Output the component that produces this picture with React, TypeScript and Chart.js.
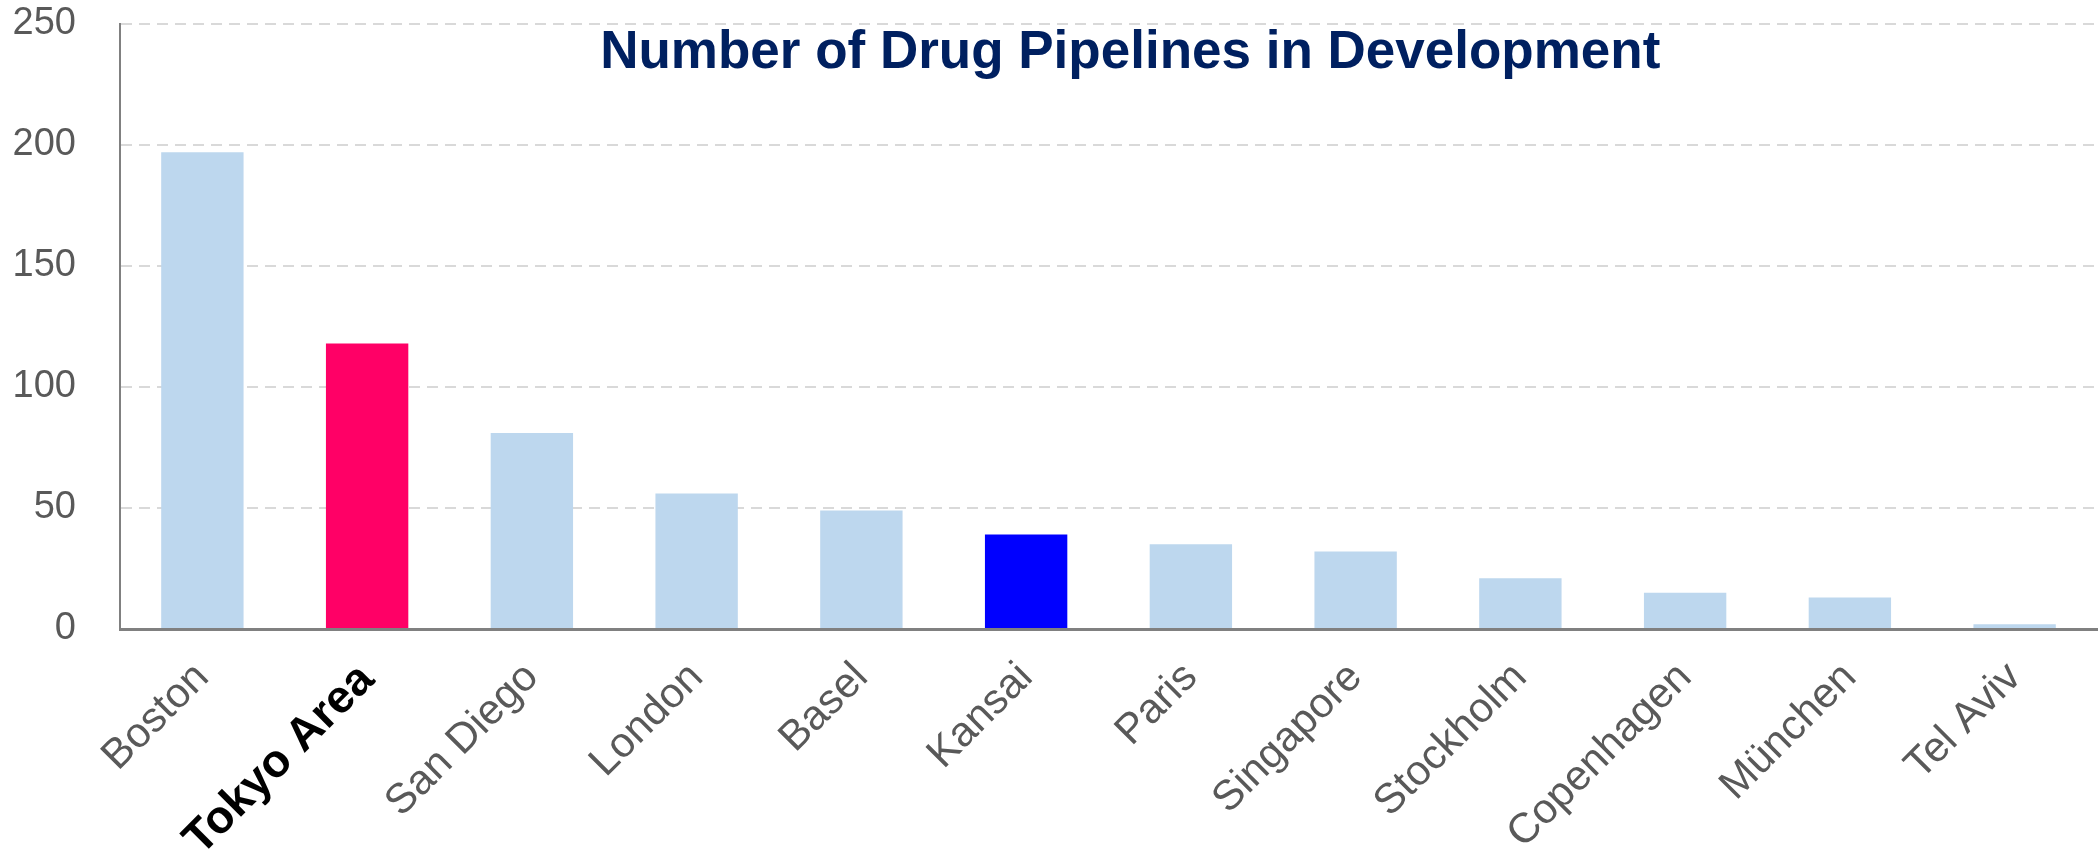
import React, { useEffect, useRef } from "react";
import { Chart, registerables } from "chart.js";

Chart.register(...registerables);

const categories: string[] = [
  "Boston",
  "Tokyo Area",
  "San Diego",
  "London",
  "Basel",
  "Kansai",
  "Paris",
  "Singapore",
  "Stockholm",
  "Copenhagen",
  "München",
  "Tel Aviv",
];

const pipelines: number[] = [197, 118, 81, 56, 49, 39, 35, 32, 21, 15, 13, 2];

const barColors: string[] = [
  "#BDD7EE",
  "#FF0066",
  "#BDD7EE",
  "#BDD7EE",
  "#BDD7EE",
  "#0000FF",
  "#BDD7EE",
  "#BDD7EE",
  "#BDD7EE",
  "#BDD7EE",
  "#BDD7EE",
  "#BDD7EE",
];

const highlightIndex = 1;
const titleText = "Number of Drug Pipelines in Development";
const yTicks = { min: 0, max: 250, step: 50 };

const FONT = "'Liberation Sans', Arial, Helvetica, sans-serif";

const titlePlugin = {
  id: "innerTitle",
  afterDraw(chart: any) {
    const { ctx, chartArea } = chart;
    ctx.save();
    ctx.font = `bold 53px ${FONT}`;
    ctx.fillStyle = "#002060";
    ctx.textAlign = "center";
    ctx.textBaseline = "alphabetic";
    const cx = chartArea.left + chartArea.width * 0.511;
    ctx.fillText(titleText, cx, chartArea.top + 44);
    ctx.restore();
  },
};

export default function App() {
  const canvasRef = useRef<HTMLCanvasElement | null>(null);

  useEffect(() => {
    const canvas = canvasRef.current;
    if (!canvas) return;
    const chart = new Chart(canvas, {
      type: "bar",
      data: {
        labels: categories,
        datasets: [
          {
            data: pipelines,
            backgroundColor: barColors,
            borderWidth: 0,
            barPercentage: 0.5,
            categoryPercentage: 1,
          },
        ],
      },
      options: {
        animation: false,
        responsive: false,
        devicePixelRatio: 1,
        layout: { padding: { top: 24, right: 2, left: 0, bottom: 0 } },
        plugins: {
          legend: { display: false },
          title: { display: false },
          tooltip: { enabled: false },
        },
        scales: {
          x: {
            grid: { display: false, drawTicks: false },
            border: { display: true, color: "#808080", width: 3 },
            ticks: {
              autoSkip: false,
              maxRotation: 45,
              minRotation: 45,
              padding: 24,
              color: (ctx: any) => (ctx.index === highlightIndex ? "#000000" : "#595959"),
              font: (ctx: any) =>
                ctx.index === highlightIndex
                  ? { family: FONT, size: 46, weight: "bold" }
                  : { family: FONT, size: 42, weight: "normal" },
            },
            afterFit: (scale: any) => {
              scale.height = 223;
              scale.paddingLeft = 0;
              scale.paddingRight = 0;
            },
          },
          y: {
            min: yTicks.min,
            max: yTicks.max,
            grid: {
              color: (ctx: any) => (ctx.tick && ctx.tick.value === 0 ? "rgba(0,0,0,0)" : "#D9D9D9"),
              lineWidth: 2,
              drawTicks: false,
            },
            border: { display: true, color: "#808080", width: 2, dash: [11, 7] },
            ticks: {
              stepSize: yTicks.step,
              padding: 44,
              color: "#595959",
              font: { family: FONT, size: 38 },
            },
            afterFit: (scale: any) => {
              scale.width = 120;
              scale.paddingTop = 0;
              scale.paddingBottom = 0;
            },
          },
        },
      },
      plugins: [titlePlugin],
    });
    return () => chart.destroy();
  }, []);

  return (
    <div style={{ position: "fixed", left: 0, top: 0, width: 2099, height: 852, background: "#fff" }}>
      <canvas ref={canvasRef} width={2099} height={852} style={{ display: "block" }} />
    </div>
  );
}
